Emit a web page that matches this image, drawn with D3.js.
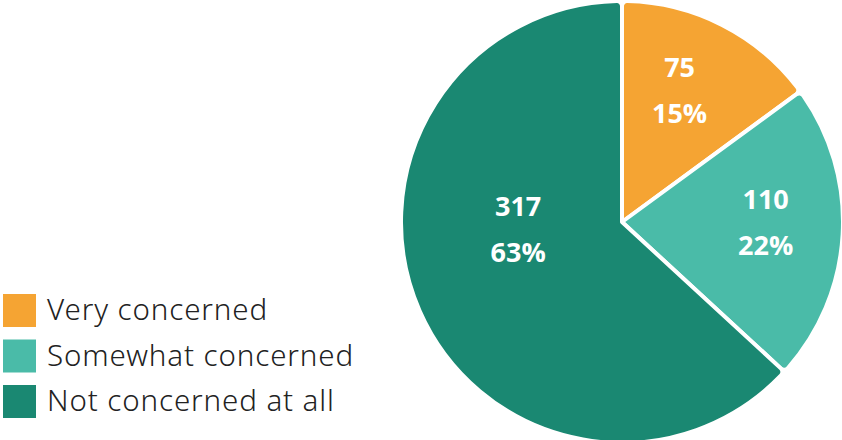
<!DOCTYPE html>
<html>
<head>
<meta charset="utf-8">
<script src="https://cdn.jsdelivr.net/npm/d3@7"></script>
<style>
  html, body { margin: 0; padding: 0; background: #fff; }
  svg { display: block; }
</style>
</head>
<body>
<svg id="chart" width="842" height="440"></svg>
<script>
// Level of concern: response counts
const categories = ["Very concerned", "Somewhat concerned", "Not concerned at all"];
const counts = [75, 110, 317];
const colors = ["#F5A433", "#4ABBA8", "#1A8872"];

const width = 842, height = 440;
const cx = 622, cy = 222, radius = 221;

const svg = d3.select("#chart");
const total = d3.sum(counts);

const pie = d3.pie().sort(null).value(d => d);
const arcs = pie(counts);

const arc = d3.arc()
  .innerRadius(0)
  .outerRadius(radius)
  .cornerRadius(5);

const g = svg.append("g").attr("transform", `translate(${cx},${cy})`);

g.selectAll("path.slice")
  .data(arcs)
  .join("path")
  .attr("class", "slice")
  .attr("d", arc)
  .attr("fill", (d, i) => colors[i])
  .attr("stroke", "#fff")
  .attr("stroke-width", 4)
  .attr("stroke-linejoin", "round");

// Label anchor: small slices sit slightly ahead of the mid-angle ray; a slice
// wider than a half-turn gets its label on the horizontal line through the centre.
function labelPoint(d) {
  const span = d.endAngle - d.startAngle;
  let a = (d.startAngle + d.endAngle) / 2 - 0.057;
  let r = radius * 0.65;
  let dy = 0;
  if (span > Math.PI) {
    a = (d.startAngle + d.endAngle) / 2;
    const options = [Math.PI / 2, 3 * Math.PI / 2].filter(t => t > d.startAngle && t < d.endAngle);
    if (options.length) a = options.reduce((p, t) => Math.abs(t - a) < Math.abs(p - a) ? t : p);
    r = radius * 0.47;
    dy = 7;
  }
  return [r * Math.sin(a), -r * Math.cos(a) + dy];
}

const labels = g.selectAll("g.label")
  .data(arcs)
  .join("g")
  .attr("class", "label")
  .attr("transform", d => `translate(${labelPoint(d)})`);

const labelFont = sel => sel
  .attr("text-anchor", "middle")
  .attr("fill", "#fff")
  .style("font-family", "'Open Sans', 'Noto Sans', sans-serif")
  .style("font-weight", 700)
  .style("font-size", "27px");

labels.append("text")
  .call(labelFont)
  .attr("y", -13)
  .text(d => d.data);

labels.append("text")
  .call(labelFont)
  .attr("y", 33)
  .text(d => `${Math.round(d.data / total * 100)}%`);

// Legend
const legend = svg.append("g").attr("transform", "translate(3,294)");
const rows = legend.selectAll("g.row")
  .data(categories)
  .join("g")
  .attr("class", "row")
  .attr("transform", (d, i) => `translate(0,${i * 45.5})`);

rows.append("rect")
  .attr("width", 33)
  .attr("height", 33)
  .attr("fill", (d, i) => colors[i]);

rows.append("text")
  .attr("x", 44)
  .attr("y", 26)
  .attr("fill", "#222")
  .style("font-family", "'Noto Sans', 'Open Sans', sans-serif")
  .style("font-weight", 300)
  .style("font-size", "29.5px")
  .style("letter-spacing", "0.9px")
  .text(d => d);
</script>
</body>
</html>
